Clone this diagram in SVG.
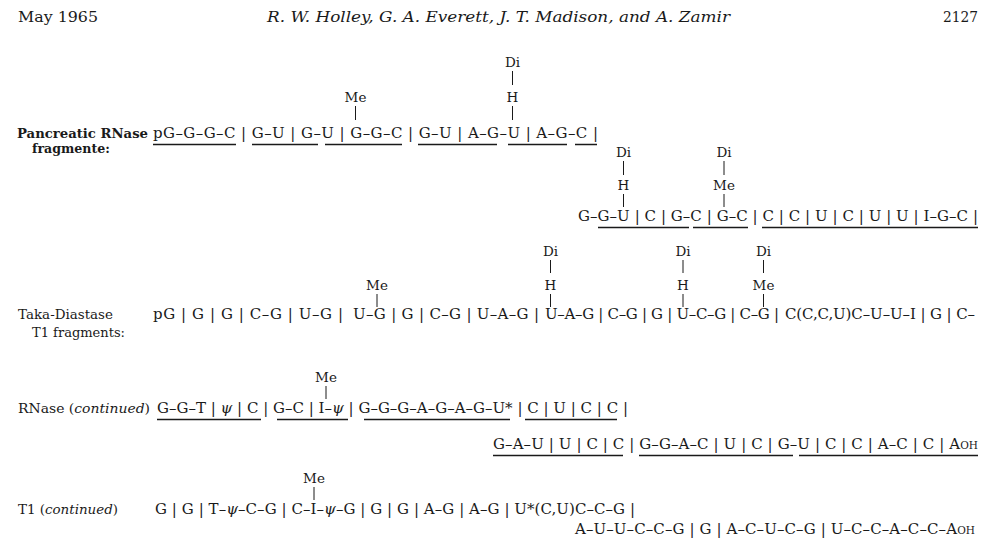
<svg xmlns="http://www.w3.org/2000/svg" width="996" height="538" viewBox="0 0 996 538">
<style>
text { font-family: "DejaVu Serif", "Liberation Serif", serif; fill: #1a1a1a; }
.hdr { font-size: 14px; }
.it { font-style: italic; }
.lbl { font-size: 13px; }
.bd { font-weight: bold; }
.seq { font-size: 15px; }
.ann { font-size: 13.5px; text-anchor: middle; }
.sc { font-size: 10.5px; }
.tick { stroke: #1a1a1a; stroke-width: 1; fill: none; }
.ul { stroke: #1a1a1a; stroke-width: 1.3; fill: none; }
</style>
<rect width="996" height="538" fill="#ffffff"/>

<g id="header">
<text class="hdr" x="18" y="22" textLength="80" lengthAdjust="spacingAndGlyphs">May 1965</text>
<text class="hdr it" x="267" y="22" textLength="463" lengthAdjust="spacingAndGlyphs">R. W. Holley, G. A. Everett, J. T. Madison, and A. Zamir</text>
<text class="hdr" x="943" y="22" textLength="35" lengthAdjust="spacingAndGlyphs">2127</text>
</g>

<g id="labels">
<text class="lbl bd" x="17" y="138" textLength="131" lengthAdjust="spacingAndGlyphs">Pancreatic RNase</text>
<text class="lbl bd" x="32" y="153" textLength="78" lengthAdjust="spacingAndGlyphs">fragmente:</text>
<text class="lbl" x="18" y="319" textLength="95" lengthAdjust="spacingAndGlyphs">Taka-Diastase</text>
<text class="lbl" x="32" y="337" textLength="93" lengthAdjust="spacingAndGlyphs">T1 fragments:</text>
<text class="lbl" x="18" y="413" textLength="132" lengthAdjust="spacingAndGlyphs">RNase (<tspan class="it">continued</tspan>)</text>
<text class="lbl" x="18" y="514" textLength="100" lengthAdjust="spacingAndGlyphs">T1 (<tspan class="it">continued</tspan>)</text>
</g>

<g id="row1">
<text class="seq" x="153" y="138" textLength="445">pG–G–G–C | G–U | G–U | G–G–C | G–U | A–G–U | A–G–C |</text>
<text class="ann" x="355.5" y="102">Me</text>
<line class="tick" x1="355.5" y1="106" x2="355.5" y2="120"/>
<text class="ann" x="512.5" y="67">Di</text>
<line class="tick" x1="512.5" y1="71" x2="512.5" y2="85"/>
<text class="ann" x="512.5" y="102">H</text>
<line class="tick" x1="512.5" y1="106" x2="512.5" y2="120"/>
<path class="ul" d="M153 144.5H236M252 144.5H318M325 144.5H402M418 144.5H497M508 144.5H567M575 144.5H597"/>
</g>

<g id="row2">
<text class="seq" x="578" y="221" textLength="400">G–G–U | C | G–C | G–C | C | C | U | C | U | U | I–G–C |</text>
<text class="ann" x="623.5" y="157">Di</text>
<line class="tick" x1="623.5" y1="161" x2="623.5" y2="175"/>
<text class="ann" x="623.5" y="190">H</text>
<line class="tick" x1="623.5" y1="194" x2="623.5" y2="207"/>
<text class="ann" x="724" y="157">Di</text>
<line class="tick" x1="724" y1="161" x2="724" y2="175"/>
<text class="ann" x="724" y="190">Me</text>
<line class="tick" x1="724" y1="194" x2="724" y2="207"/>
<path class="ul" d="M598 227.5H689M693 227.5H748M762 227.5H978"/>
</g>

<g id="row3">
<text class="seq" x="153" y="319" textLength="190">pG | G | G | C–G | U–G |</text>
<text class="seq" x="353" y="319" textLength="186">U–G | G | C–G | U–A–G |</text>
<text class="seq" x="545" y="319" textLength="234">U–A–G | C–G | G | U–C–G | C–G |</text>
<text class="seq" x="785" y="319" textLength="190">C(C,C,U)C–U–U–I | G | C–</text>
<text class="ann" x="377" y="290">Me</text>
<line class="tick" x1="377" y1="294" x2="377" y2="307"/>
<text class="ann" x="550.5" y="256">Di</text>
<line class="tick" x1="550.5" y1="260" x2="550.5" y2="273"/>
<text class="ann" x="550.5" y="290">H</text>
<line class="tick" x1="550.5" y1="294" x2="550.5" y2="307"/>
<text class="ann" x="683" y="256">Di</text>
<line class="tick" x1="683" y1="260" x2="683" y2="273"/>
<text class="ann" x="683" y="290">H</text>
<line class="tick" x1="683" y1="294" x2="683" y2="307"/>
<text class="ann" x="763.5" y="256">Di</text>
<line class="tick" x1="763.5" y1="260" x2="763.5" y2="273"/>
<text class="ann" x="763.5" y="290">Me</text>
<line class="tick" x1="763.5" y1="294" x2="763.5" y2="307"/>
</g>

<g id="row4">
<text class="seq" x="157" y="413" textLength="471">G–G–T | <tspan class="it">ψ</tspan> | C | G–C | I–<tspan class="it">ψ</tspan> | G–G–G–A–G–A–G–U* | C | U | C | C |</text>
<text class="ann" x="326" y="382">Me</text>
<line class="tick" x1="326" y1="386" x2="326" y2="399"/>
<path class="ul" d="M157 419.5H261M277 419.5H348M364 419.5H510M525 419.5H617"/>
<text class="seq" x="493" y="449" textLength="485">G–A–U | U | C | C | G–G–A–C | U | C | G–U | C | C | A–C | C | A<tspan class="sc">OH</tspan></text>
<path class="ul" d="M493 455.5H623M639 455.5H793M799 455.5H978"/>
</g>

<g id="row5">
<text class="seq" x="155" y="514" textLength="480">G | G | T–<tspan class="it">ψ</tspan>–C–G | C–I–<tspan class="it">ψ</tspan>–G | G | G | A–G | A–G | U*(C,U)C–C–G |</text>
<text class="ann" x="314" y="483">Me</text>
<line class="tick" x1="314" y1="487" x2="314" y2="500"/>
<text class="seq" x="575" y="534" textLength="400">A–U–U–C–C–G | G | A–C–U–C–G | U–C–C–A–C–C–A<tspan class="sc">OH</tspan></text>
</g>
</svg>
